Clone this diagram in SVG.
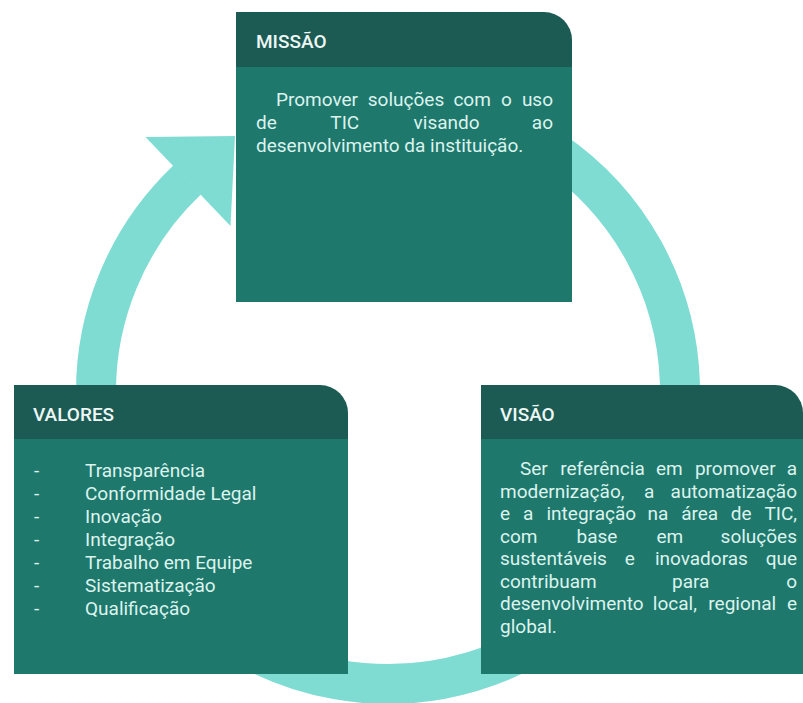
<svg xmlns="http://www.w3.org/2000/svg" width="803" height="703" viewBox="0 0 803 703">
  <style>
    .ring { fill: none; stroke: #7fdcd3; stroke-width: 40; }
    .head { fill: #7fdcd3; }
    .hdr { fill: #1c5b54; }
    .body { fill: #1f786c; }
    .title { font-family: Roboto, "Liberation Sans", sans-serif; font-size: 19px; font-weight: 500; fill: #eef7f4; }
    .txt { font-family: Roboto, "Liberation Sans", sans-serif; font-size: 19px; fill: #dcf3ee; }
    .end { text-anchor: end; }
  </style>
  <rect width="803" height="703" fill="#ffffff"/>
  <g id="connectors">
    <path class="ring" d="M 438.7 104.4 A 292 292 0 1 1 187.1 180.1"/>
    <polygon class="head" points="145.5,137 230.5,226 235,136"/>
  </g>
  <g id="missao">
    <path class="hdr" d="M236 12 H544 A28 28 0 0 1 572 40 V67 H236 Z"/>
    <rect class="body" x="236" y="67" width="336" height="235"/>
    <text class="title" x="256" y="48">MISSÃO</text>
    <text class="txt" y="106"><tspan x="276">Promover</tspan><tspan x="367.8">soluções</tspan><tspan x="453.4">com</tspan><tspan x="500.9">o</tspan></text>
    <text class="txt end" x="553" y="106">uso</text>
    <text class="txt" y="129"><tspan x="256">de</tspan><tspan x="330.3">TIC</tspan><tspan x="413.6">visando</tspan></text>
    <text class="txt end" x="553" y="129">ao</text>
    <text class="txt" x="256" y="152">desenvolvimento da instituição.</text>
  </g>
  <g id="valores">
    <path class="hdr" d="M14 385 H320 A28 28 0 0 1 348 413 V439 H14 Z"/>
    <rect class="body" x="14" y="439" width="334" height="235"/>
    <text class="title" x="33" y="421">VALORES</text>
    <text class="txt" x="34" y="477">-</text><text class="txt" x="85" y="477">Transparência</text>
    <text class="txt" x="34" y="500">-</text><text class="txt" x="85" y="500">Conformidade Legal</text>
    <text class="txt" x="34" y="523">-</text><text class="txt" x="85" y="523">Inovação</text>
    <text class="txt" x="34" y="546">-</text><text class="txt" x="85" y="546">Integração</text>
    <text class="txt" x="34" y="569">-</text><text class="txt" x="85" y="569">Trabalho em Equipe</text>
    <text class="txt" x="34" y="592">-</text><text class="txt" x="85" y="592">Sistematização</text>
    <text class="txt" x="34" y="615">-</text><text class="txt" x="85" y="615">Qualificação</text>
  </g>
  <g id="visao">
    <path class="hdr" d="M481 385 H775 A28 28 0 0 1 803 413 V439 H481 Z"/>
    <rect class="body" x="481" y="439" width="322" height="235"/>
    <text class="title" x="500" y="421">VISÃO</text>
    <text class="txt" y="475"><tspan x="520">Ser</tspan><tspan x="560.2">referência</tspan><tspan x="656">em</tspan><tspan x="694.9">promover</tspan></text>
    <text class="txt end" x="797" y="475">a</text>
    <text class="txt" y="497.5"><tspan x="500">modernização,</tspan><tspan x="644">a</tspan></text>
    <text class="txt end" x="797" y="497.5">automatização</text>
    <text class="txt" y="520"><tspan x="500">e</tspan><tspan x="523.1">a</tspan><tspan x="546.5">integração</tspan><tspan x="647.6">na</tspan><tspan x="681.2">área</tspan><tspan x="730.8">de</tspan></text>
    <text class="txt end" x="797" y="520">TIC,</text>
    <text class="txt" y="542.5"><tspan x="500">com</tspan><tspan x="576.5">base</tspan><tspan x="656.4">em</tspan></text>
    <text class="txt end" x="797" y="542.5">soluções</text>
    <text class="txt" y="565"><tspan x="500">sustentáveis</tspan><tspan x="624.8">e</tspan><tspan x="654.9">inovadoras</tspan></text>
    <text class="txt end" x="797" y="565">que</text>
    <text class="txt" y="587.5"><tspan x="500">contribuam</tspan><tspan x="672">para</tspan></text>
    <text class="txt end" x="797" y="587.5">o</text>
    <text class="txt" y="610"><tspan x="500">desenvolvimento</tspan><tspan x="652.8">local,</tspan><tspan x="708.3">regional</tspan></text>
    <text class="txt end" x="797" y="610">e</text>
    <text class="txt" x="500" y="632.5">global.</text>
  </g>
</svg>
